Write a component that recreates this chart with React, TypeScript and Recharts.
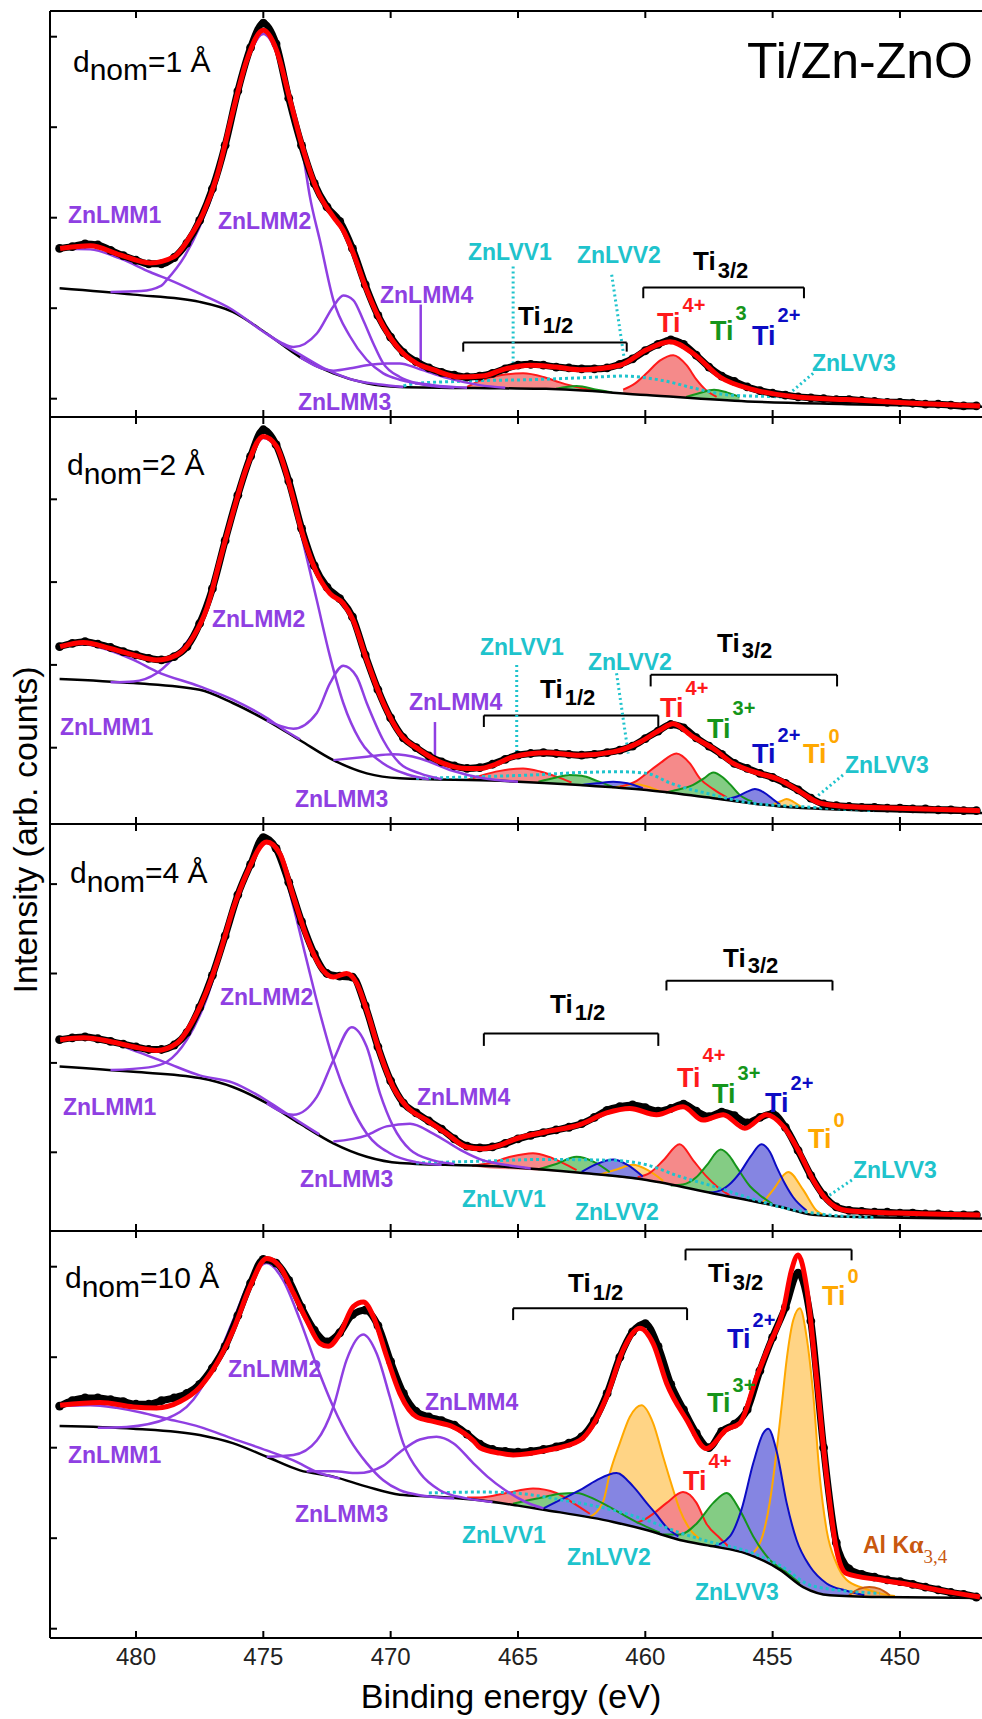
import React from 'react';
import { ComposedChart, Line, Area, XAxis, YAxis, ReferenceLine } from 'recharts';

type P = [number, number];
type B = [number, number, number];

const FONT = '"Liberation Sans", Arial, Helvetica, sans-serif';
const E_LEFT = 483.377;
const E_RIGHT = 446.7;
const energyTicks = [480, 475, 470, 465, 460, 455, 450];

const PURPLE = '#8f3fe2';
const CYAN = '#1fc3cc';
const COL = {
  t4: { stroke: '#ff1a1a', fill: '#f58a8a' },
  t3: { stroke: '#15951a', fill: '#84cc84' },
  t2: { stroke: '#0c0cc4', fill: '#8585e2' },
  t0: { stroke: '#ffa800', fill: '#ffd485' },
  al: { stroke: '#c9580f', fill: '#e8a676' },
};

// ---------- d_nom = 1 Å ----------
const p1Raw: P[] = [[483,1.66],[482.5,1.68],[482,1.71],[481.5,1.70],[481,1.64],[480.5,1.58],[480,1.53],[479.5,1.49],[479,1.49],[478.5,1.56],[478,1.72],[477.5,1.97],[477,2.32],[476.5,2.80],[476,3.40],[475.5,3.88],[475,4.15],[474.5,3.92],[474,3.32],[473.5,2.80],[473,2.38],[472.5,2.12],[472,1.96],[471.5,1.66],[471,1.26],[470.5,0.92],[470,0.68],[469.5,0.51],[469,0.41],[468.5,0.34],[468,0.29],[467.5,0.26],[467,0.24],[466.5,0.25],[466,0.28],[465.5,0.33],[465,0.37],[464.5,0.38],[464,0.37],[463.5,0.35],[463,0.34],[462.5,0.33],[462,0.33],[461.5,0.34],[461,0.38],[460.5,0.44],[460,0.53],[459.5,0.60],[459,0.65],[458.5,0.60],[458,0.48],[457.5,0.35],[457,0.25],[456.5,0.19],[456,0.13],[455.5,0.09],[455,0.06],[454.5,0.04],[454,0.02],[453.5,0.01],[453,0.0],[452.5,-0.01],[452,-0.01],[451.5,-0.02],[451,-0.03],[450.5,-0.04],[450,-0.04],[449.5,-0.05],[449,-0.06],[448.5,-0.06],[448,-0.07],[447.5,-0.08],[447,-0.08]];
const p1Fit: P[] = [[482.98,1.66],[481.8,1.69],[480.63,1.59],[479.45,1.50],[478.5,1.57],[477.88,1.79],[477.36,2.05],[476.83,2.45],[476.18,3.19],[475.65,3.74],[475.0,4.07],[474.48,3.85],[473.95,3.30],[473.43,2.75],[472.9,2.31],[472.25,2.01],[471.86,1.86],[471.47,1.61],[470.94,1.20],[470.29,0.80],[469.64,0.54],[468.98,0.39],[468.33,0.32],[467.28,0.24],[466.4,0.25],[465.5,0.33],[464.53,0.37],[463.5,0.35],[462.57,0.32],[461.0,0.37],[459.95,0.54],[459.03,0.63],[458.12,0.50],[457.07,0.24],[455.76,0.10],[454.06,0.02],[452.1,-0.01],[449.48,-0.05],[446.86,-0.08]];
const p1Bg: P[] = [[483,1.22],[480.1,1.15],[477.5,1.07],[476.2,0.96],[474.87,0.72],[473.56,0.46],[472.25,0.28],[470.94,0.17],[469.64,0.13],[465.7,0.115],[463.9,0.11],[459.95,0.04],[456,-0.03],[452.1,-0.06],[446.7,-0.09]];
const p1Lmm1: P[] = [[483,1.66],[481.8,1.65],[480.63,1.55],[479.45,1.40],[478.5,1.29],[477.5,1.16],[476.2,0.98],[475.2,0.78],[474.3,0.61],[473.5,0.48],[472.5,0.32],[471.5,0.21],[470.5,0.16],[469.5,0.13]];
const p1Lmm2: P[] = [[481,1.18],[479.8,1.19],[479,1.25],[478.8,1.31],[478.1,1.57],[477.5,1.90],[476.83,2.40],[476.18,3.15],[475.65,3.71],[475.0,4.03],[474.48,3.82],[473.95,3.27],[473.43,2.68],[473.17,2.23],[472.78,1.75],[472.25,1.09],[471.6,0.69],[470.94,0.43],[470.29,0.28],[469.64,0.21],[468.33,0.15],[467,0.12]];
const p1Lmm3: P[] = [[474.87,0.72],[474.3,0.62],[473.82,0.57],[472.9,0.72],[472.25,1.02],[471.86,1.14],[471.47,1.09],[471.08,0.87],[470.68,0.61],[470.29,0.39],[469.64,0.24],[468.98,0.17],[468.33,0.14],[467.5,0.12]];
const p1Lmm4: P[] = [[473.56,0.46],[472.25,0.31],[471.5,0.34],[470.94,0.37],[470.2,0.39],[469.64,0.39],[468.9,0.33],[467.8,0.23],[466.5,0.15],[465.5,0.12]];
const p1Lvv: P[] = [[469.5,0.14],[468.98,0.17],[467.5,0.19],[466.49,0.20],[464.53,0.21],[462.57,0.23],[460.87,0.25],[459.3,0.20],[457.99,0.11],[456.68,0.04],[454.71,0.02],[453.4,0.0],[451,-0.04]];
const p1Ti4a: B[] = [[460.87,0.06,0.10],[460.4,0.05,0.17],[459.95,0.04,0.28],[459.43,0.03,0.42],[458.9,0.02,0.48],[458.38,0.01,0.37],[457.99,0.0,0.21],[457.6,-0.005,0.09],[457.2,-0.01,0.02]];
const p1Ti4b: B[] = [[467.0,0.12,0.13],[466.49,0.12,0.20],[465.7,0.115,0.26],[464.8,0.115,0.28],[464.0,0.11,0.24],[463.36,0.10,0.18],[462.57,0.09,0.12],[462.0,0.08,0.09]];
const p1Ti3a: B[] = [[458.4,0.01,0.02],[457.9,0.0,0.06],[457.3,-0.005,0.10],[456.8,-0.01,0.07],[456.3,-0.02,0.02]];
const p1Ti3b: B[] = [[463.5,0.10,0.11],[462.7,0.09,0.14],[461.9,0.08,0.10],[461.3,0.07,0.07]];

// ---------- d_nom = 2 Å ----------
const p2Raw: P[] = [[483,1.22],[482.5,1.26],[482,1.28],[481.5,1.25],[481,1.21],[480.5,1.16],[480,1.12],[479.5,1.08],[479,1.06],[478.5,1.10],[478,1.22],[477.5,1.50],[477,1.92],[476.5,2.50],[476,3.05],[475.5,3.52],[475,3.84],[474.5,3.66],[474,3.22],[473.5,2.65],[473,2.20],[472.5,1.94],[472,1.80],[471.5,1.58],[471,1.12],[470.5,0.70],[470,0.36],[469.5,0.12],[469,0.0],[468.5,-0.10],[468,-0.17],[467.5,-0.22],[467,-0.25],[466.5,-0.24],[466,-0.20],[465.5,-0.14],[465,-0.09],[464.5,-0.07],[464,-0.06],[463.5,-0.07],[463,-0.08],[462.5,-0.09],[462,-0.08],[461.5,-0.06],[461,-0.03],[460.5,0.02],[460,0.11],[459.5,0.20],[459,0.28],[458.5,0.24],[458,0.12],[457.5,0.02],[457,-0.08],[456.5,-0.19],[456,-0.25],[455.5,-0.31],[455,-0.36],[454.5,-0.43],[454,-0.51],[453.5,-0.61],[453,-0.68],[452.5,-0.70],[452,-0.71],[451.5,-0.72],[451,-0.72],[450.5,-0.73],[450,-0.73],[449.5,-0.74],[449,-0.74],[448.5,-0.75],[448,-0.75],[447.5,-0.76],[447,-0.76]];
const p2Fit: P[] = [[482.98,1.22],[482.07,1.27],[481.02,1.20],[480.1,1.12],[479.19,1.06],[478.4,1.12],[477.75,1.34],[477.2,1.70],[476.7,2.27],[476.2,2.83],[475.65,3.39],[475.0,3.76],[474.48,3.64],[473.95,3.15],[473.43,2.55],[472.9,2.11],[472.38,1.86],[471.86,1.74],[471.47,1.54],[470.94,1.06],[470.29,0.54],[469.64,0.17],[468.85,-0.03],[467.93,-0.19],[467.02,-0.25],[466.49,-0.25],[465.97,-0.21],[465.19,-0.11],[463.88,-0.06],[462.57,-0.09],[461.26,-0.05],[460.2,0.07],[459.44,0.21],[458.91,0.29],[458.12,0.13],[457.33,-0.01],[456.55,-0.19],[455.76,-0.29],[454.71,-0.39],[453.93,-0.53],[453.14,-0.67],[452.1,-0.71],[450.1,-0.73],[446.86,-0.76]];
const p2Bg: P[] = [[483,0.83],[480.1,0.78],[477.5,0.70],[476.2,0.54],[474.87,0.33],[473.56,0.09],[472.25,-0.15],[470.94,-0.31],[469.64,-0.37],[465.7,-0.40],[462.57,-0.45],[459.95,-0.51],[457.33,-0.61],[454.71,-0.71],[452.1,-0.75],[446.7,-0.79]];
const p2Lmm1: P[] = [[483,1.22],[482.07,1.25],[481.0,1.17],[480.1,1.06],[479.19,0.92],[477.5,0.74],[476.2,0.58],[474.87,0.36],[474.2,0.22],[473.56,0.10]];
const p2Lmm2: P[] = [[481.0,0.79],[480.1,0.80],[479.19,0.90],[478.15,1.22],[477.5,1.50],[477.2,1.68],[476.7,2.25],[476.2,2.80],[475.65,3.36],[475.0,3.74],[474.48,3.62],[473.95,3.12],[473.43,2.47],[472.9,1.78],[472.38,1.10],[471.86,0.54],[471.21,0.09],[470.29,-0.19],[469.37,-0.32],[468.5,-0.38]];
const p2Lmm3: P[] = [[474.87,0.33],[473.82,0.23],[472.9,0.42],[472.38,0.78],[471.86,0.99],[471.34,0.86],[470.94,0.54],[470.29,0.09],[469.64,-0.19],[468.85,-0.31],[468.0,-0.38]];
const p2Lmm4: P[] = [[472.25,-0.15],[470.94,-0.11],[469.9,-0.08],[468.85,-0.13],[467.67,-0.27],[466.36,-0.37],[465.0,-0.41]];
const p2Lvv: P[] = [[469.0,-0.37],[466.49,-0.35],[464.5,-0.33],[462.57,-0.30],[461.0,-0.29],[459.95,-0.31],[459.0,-0.43],[457.33,-0.57],[456.0,-0.66],[453.41,-0.72],[451.0,-0.76]];
const p2Ti4a: B[] = [[461.0,-0.49,-0.47],[460.34,-0.50,-0.40],[459.95,-0.51,-0.31],[459.43,-0.53,-0.19],[458.78,-0.555,-0.07],[458.25,-0.57,-0.19],[457.86,-0.59,-0.37],[457.33,-0.61,-0.50],[456.8,-0.63,-0.60]];
const p2Ti4b: B[] = [[467.0,-0.40,-0.39],[466.49,-0.40,-0.34],[465.7,-0.41,-0.28],[464.8,-0.41,-0.25],[464.1,-0.42,-0.29],[463.49,-0.43,-0.35],[462.9,-0.44,-0.42]];
const p2Ti3a: B[] = [[459.2,-0.54,-0.54],[458.9,-0.55,-0.52],[458.12,-0.58,-0.45],[457.7,-0.60,-0.37],[457.33,-0.61,-0.30],[456.95,-0.62,-0.36],[456.68,-0.63,-0.44],[456.29,-0.645,-0.57],[455.8,-0.66,-0.65]];
const p2Ti3b: B[] = [[464.2,-0.42,-0.41],[463.5,-0.43,-0.36],[463.0,-0.44,-0.33],[462.5,-0.45,-0.34],[461.9,-0.46,-0.40],[461.3,-0.48,-0.47]];
const p2Ti2a: B[] = [[456.9,-0.63,-0.63],[456.4,-0.645,-0.59],[456.0,-0.66,-0.53],[455.7,-0.67,-0.50],[455.35,-0.68,-0.54],[455.0,-0.69,-0.62],[454.7,-0.70,-0.69]];
const p2Ti2b: B[] = [[462.5,-0.45,-0.45],[461.9,-0.46,-0.43],[461.26,-0.48,-0.41],[460.7,-0.49,-0.43],[460.1,-0.50,-0.49]];
const p2Ti0a: B[] = [[455.0,-0.69,-0.69],[454.7,-0.70,-0.65],[454.45,-0.705,-0.62],[454.2,-0.71,-0.65],[453.9,-0.72,-0.71]];
const p2Ti0b: B[] = [[461.3,-0.48,-0.48],[460.8,-0.49,-0.46],[460.34,-0.50,-0.44],[459.9,-0.51,-0.47],[459.4,-0.53,-0.53]];

// ---------- d_nom = 4 Å ----------
const p3Raw: P[] = [[483,1.26],[482.5,1.28],[482,1.29],[481.5,1.27],[481,1.24],[480.5,1.21],[480,1.18],[479.5,1.15],[479,1.15],[478.5,1.20],[478,1.34],[477.5,1.62],[477,1.98],[476.5,2.42],[476,2.88],[475.5,3.22],[475,3.52],[474.5,3.40],[474,3.02],[473.5,2.58],[473,2.22],[472.5,2.00],[472,1.97],[471.5,1.96],[471,1.64],[470.5,1.18],[470,0.80],[469.5,0.55],[469,0.44],[468.5,0.35],[468,0.26],[467.5,0.15],[467,0.07],[466.5,0.05],[466,0.06],[465.5,0.10],[465,0.15],[464.5,0.19],[464,0.22],[463.5,0.25],[463,0.28],[462.5,0.32],[462,0.39],[461.5,0.47],[461,0.51],[460.5,0.53],[460,0.50],[459.5,0.46],[459,0.49],[458.5,0.54],[458,0.46],[457.5,0.40],[457,0.45],[456.5,0.41],[456,0.33],[455.5,0.39],[455,0.43],[454.5,0.28],[454,0.02],[453.5,-0.26],[453,-0.48],[452.5,-0.61],[452,-0.65],[451.5,-0.66],[451,-0.67],[450.5,-0.67],[450,-0.68],[449.5,-0.68],[449,-0.69],[448.5,-0.69],[448,-0.70],[447.5,-0.70],[447,-0.70]];
const p3Fit: P[] = [[482.98,1.26],[482.07,1.28],[481.02,1.24],[480.1,1.18],[479.19,1.14],[478.4,1.22],[477.75,1.48],[477.2,1.82],[476.7,2.23],[476.2,2.71],[475.65,3.12],[474.87,3.47],[474.35,3.34],[473.82,2.86],[473.3,2.41],[472.77,2.08],[472.25,1.96],[471.73,2.00],[471.33,1.89],[470.94,1.59],[470.42,1.11],[469.9,0.73],[469.37,0.51],[468.59,0.36],[467.8,0.21],[467.02,0.06],[466.4,0.04],[465.7,0.08],[465.19,0.14],[463.88,0.23],[462.57,0.31],[461.52,0.44],[460.61,0.49],[459.56,0.42],[458.52,0.51],[457.73,0.36],[456.94,0.42],[456.09,0.27],[455.24,0.42],[454.58,0.29],[453.93,-0.01],[453.41,-0.31],[452.88,-0.53],[452.1,-0.65],[450.1,-0.68],[446.86,-0.70]];
const p3Bg: P[] = [[483,0.96],[480.1,0.90],[477.5,0.83],[476.2,0.73],[474.87,0.55],[473.56,0.32],[472.25,0.10],[470.94,-0.05],[469.64,-0.12],[465.7,-0.16],[462.57,-0.23],[459.95,-0.31],[457.33,-0.46],[454.71,-0.61],[453.41,-0.70],[452.1,-0.72],[446.7,-0.74]];
const p3Lmm1: P[] = [[483,1.26],[481.5,1.27],[480.1,1.14],[478.8,1.00],[477.5,0.86],[476.2,0.78],[474.87,0.58],[473.8,0.38],[472.8,0.20]];
const p3Lmm2: P[] = [[481.0,0.92],[479.5,0.95],[478.8,1.01],[478.0,1.26],[477.2,1.74],[476.7,2.20],[476.2,2.68],[475.65,3.10],[474.87,3.46],[474.35,3.30],[473.82,2.75],[473.3,2.15],[472.77,1.55],[472.25,1.03],[471.6,0.55],[470.94,0.21],[470.03,-0.01],[469.0,-0.11],[468.0,-0.14]];
const p3Lmm3: P[] = [[474.87,0.55],[473.82,0.42],[472.9,0.62],[472.25,1.03],[471.53,1.40],[470.94,1.18],[470.42,0.66],[469.9,0.29],[469.24,0.03],[468.33,-0.09],[467.5,-0.13]];
const p3Lmm4: P[] = [[472.25,0.12],[470.94,0.19],[470.16,0.29],[469.24,0.32],[468.33,0.21],[467.28,0.03],[466.36,-0.09],[465.7,-0.13],[464.5,-0.18]];
const p3Lvv: P[] = [[469.0,-0.12],[466.49,-0.10],[464.0,-0.08],[461.26,-0.09],[459.95,-0.14],[458.65,-0.27],[457.33,-0.38],[456.03,-0.50],[454.72,-0.61],[453.41,-0.68],[451.0,-0.73]];
const p3Ti4a: B[] = [[460.3,-0.29,-0.28],[459.82,-0.32,-0.23],[459.29,-0.35,-0.09],[458.65,-0.38,0.09],[458.12,-0.41,-0.09],[457.6,-0.44,-0.27],[457.2,-0.47,-0.38],[456.7,-0.50,-0.48]];
const p3Ti4b: B[] = [[466.8,-0.16,-0.15],[466.1,-0.18,-0.12],[465.3,-0.19,-0.05],[464.41,-0.20,-0.01],[463.8,-0.21,-0.05],[463.23,-0.22,-0.12],[462.7,-0.23,-0.20]];
const p3Ti3a: B[] = [[459.0,-0.37,-0.37],[458.52,-0.39,-0.36],[458.0,-0.42,-0.28],[457.6,-0.44,-0.15],[457.04,-0.47,0.03],[456.7,-0.49,-0.04],[456.42,-0.51,-0.16],[455.89,-0.55,-0.38],[455.5,-0.57,-0.48],[455.0,-0.60,-0.58]];
const p3Ti3b: B[] = [[464.2,-0.20,-0.19],[463.5,-0.21,-0.13],[462.7,-0.23,-0.05],[462.0,-0.25,-0.11],[461.4,-0.27,-0.22]];
const p3Ti2a: B[] = [[457.5,-0.45,-0.45],[457.2,-0.47,-0.44],[456.7,-0.50,-0.36],[456.29,-0.52,-0.23],[455.85,-0.55,-0.04],[455.44,-0.57,0.09],[455.1,-0.59,0.0],[454.85,-0.60,-0.16],[454.5,-0.62,-0.36],[454.2,-0.64,-0.50],[453.67,-0.68,-0.65]];
const p3Ti2b: B[] = [[462.5,-0.23,-0.22],[461.9,-0.25,-0.13],[461.26,-0.27,-0.08],[460.7,-0.29,-0.14],[460.1,-0.31,-0.27]];
const p3Ti0a: B[] = [[455.4,-0.58,-0.57],[454.98,-0.60,-0.42],[454.39,-0.63,-0.22],[453.8,-0.67,-0.42],[453.28,-0.70,-0.65],[453.0,-0.71,-0.70]];
const p3Ti0b: B[] = [[461.8,-0.26,-0.25],[461.1,-0.28,-0.19],[460.5,-0.30,-0.14],[459.9,-0.32,-0.20],[459.3,-0.35,-0.32]];

// ---------- d_nom = 10 Å ----------
const p4Raw: P[] = [[483,2.46],[482.5,2.52],[482,2.55],[481.5,2.55],[481,2.53],[480.5,2.51],[480,2.48],[479.5,2.48],[479,2.52],[478.5,2.55],[478,2.60],[477.5,2.70],[477,2.88],[476.5,3.12],[476,3.46],[475.5,3.82],[475,4.08],[474.5,4.04],[474,3.85],[473.5,3.55],[473,3.30],[472.5,3.17],[472,3.27],[471.5,3.47],[471,3.52],[470.5,3.35],[470,2.95],[469.5,2.60],[469,2.40],[468.5,2.34],[468,2.30],[467.5,2.25],[467,2.15],[466.5,2.04],[466,1.98],[465.5,1.96],[465,1.95],[464.5,1.96],[464,1.98],[463.5,2.01],[463,2.05],[462.5,2.12],[462,2.30],[461.5,2.60],[461,3.00],[460.5,3.28],[460,3.37],[459.5,3.12],[459,2.70],[458.5,2.42],[458,2.16],[457.5,2.00],[457,2.18],[456.5,2.26],[456,2.42],[455.5,2.85],[455,3.22],[454.5,3.55],[454,3.93],[453.5,3.40],[453,2.00],[452.5,0.95],[452,0.66],[451.5,0.60],[451,0.57],[450.5,0.54],[450,0.52],[449.5,0.49],[449,0.46],[448.5,0.43],[448,0.40],[447.5,0.38],[447,0.35]];
const p4Fit: P[] = [[482.98,2.47],[481.41,2.50],[480.1,2.45],[479.19,2.44],[478.27,2.51],[477.49,2.67],[476.83,2.93],[476.18,3.30],[475.52,3.78],[474.87,4.09],[474.35,4.00],[473.82,3.71],[473.3,3.41],[472.77,3.15],[472.45,3.12],[471.99,3.26],[471.47,3.56],[471.07,3.61],[470.68,3.45],[470.16,3.01],[469.64,2.60],[468.98,2.34],[468.33,2.29],[467.54,2.23],[466.76,2.08],[466.49,2.00],[465.71,1.94],[465.19,1.92],[463.88,1.97],[462.57,2.08],[461.52,2.56],[460.87,3.08],[460.21,3.32],[459.69,3.15],[459.16,2.71],[458.38,2.31],[457.6,1.99],[456.81,2.20],[456.29,2.27],[455.63,2.78],[455.11,3.15],[454.58,3.52],[454.26,3.96],[454.0,4.13],[453.67,3.78],[453.28,2.78],[452.88,1.68],[452.49,0.87],[452.1,0.61],[450.79,0.54],[449.48,0.48],[448.17,0.41],[446.86,0.35]];
const p4Bg: P[] = [[483,2.24],[480.1,2.21],[477.5,2.14],[476.2,2.05],[474.87,1.90],[473.56,1.75],[472.25,1.68],[470.94,1.57],[469.64,1.48],[468.33,1.46],[466.49,1.42],[465.0,1.36],[463.88,1.31],[461.26,1.18],[459.95,1.09],[458.65,0.98],[457.33,0.91],[456.03,0.83],[454.71,0.65],[453.8,0.46],[452.75,0.37],[450.8,0.35],[446.7,0.34]];
const p4Lmm1: P[] = [[483,2.46],[481.8,2.47],[480.76,2.44],[479.8,2.39],[478.8,2.32],[477.5,2.23],[476.2,2.10],[474.87,1.97],[473.82,1.86],[472.8,1.72],[472.0,1.66]];
const p4Lmm2: P[] = [[481.5,2.22],[480.37,2.23],[478.8,2.32],[477.75,2.53],[476.96,2.90],[476.18,3.41],[475.52,3.85],[474.87,4.04],[474.22,3.85],[473.56,3.41],[472.9,2.90],[472.25,2.45],[471.6,2.09],[470.94,1.83],[470.29,1.64],[469.64,1.53],[468.72,1.47],[467.5,1.44]];
const p4Lmm3: P[] = [[474.87,1.90],[473.82,1.92],[472.9,2.08],[472.25,2.45],[471.73,2.97],[471.08,3.25],[470.55,3.04],[470.03,2.56],[469.51,2.05],[468.85,1.72],[468.07,1.53],[467.02,1.44],[466.0,1.40]];
const p4Lmm4: P[] = [[473.3,1.74],[472.25,1.74],[471.3,1.72],[470.3,1.80],[469.64,1.95],[468.85,2.09],[468.2,2.12],[467.54,2.05],[466.76,1.83],[466.2,1.68],[465.5,1.53],[464.7,1.40],[464.0,1.33]];
const p4Lvv: P[] = [[468.5,1.50],[466.49,1.51],[465.19,1.50],[463.23,1.42],[461.26,1.31],[459.95,1.20],[458.64,1.06],[457.33,0.95],[456.03,0.86],[454.72,0.70],[453.41,0.47],[450.79,0.39]];
const p4Ti4a: B[] = [[460.34,1.12,1.17],[459.95,1.09,1.22],[459.69,1.07,1.27],[459.16,1.03,1.39],[458.52,0.98,1.51],[457.99,0.95,1.39],[457.6,0.93,1.16],[457.07,0.90,1.00],[456.7,0.87,0.90]];
const p4Ti4b: B[] = [[467.0,1.44,1.45],[466.49,1.42,1.45],[465.45,1.38,1.50],[464.41,1.34,1.55],[463.49,1.30,1.50],[462.84,1.27,1.39],[462.18,1.23,1.27]];
const p4Ti3a: B[] = [[459.3,1.04,1.04],[458.64,0.98,1.04],[457.99,0.95,1.16],[457.33,0.91,1.39],[456.81,0.88,1.50],[456.29,0.85,1.31],[455.76,0.80,1.02],[455.11,0.72,0.76],[454.45,0.60,0.62],[453.93,0.48,0.50]];
const p4Ti3b: B[] = [[465.2,1.37,1.38],[464.4,1.34,1.43],[463.88,1.32,1.46],[463.36,1.29,1.49],[462.71,1.26,1.50],[461.92,1.22,1.42],[461.0,1.17,1.28],[460.21,1.11,1.16],[459.43,1.05,1.06]];
const p4Ti2a: B[] = [[457.33,0.91,0.91],[456.68,0.87,1.02],[456.23,0.84,1.31],[455.76,0.80,1.83],[455.37,0.75,2.16],[455.17,0.72,2.21],[454.85,0.68,1.97],[454.45,0.60,1.39],[454.06,0.52,0.98],[453.54,0.44,0.69],[452.88,0.38,0.50],[452.1,0.36,0.42],[451.4,0.35,0.37]];
const p4Ti2b: B[] = [[464.0,1.32,1.33],[463.36,1.29,1.42],[462.57,1.25,1.53],[461.92,1.22,1.64],[461.13,1.17,1.72],[460.47,1.13,1.57],[459.95,1.09,1.39],[459.56,1.06,1.26],[459.16,1.03,1.12],[458.7,0.99,1.02]];
const p4Ti0a: B[] = [[455.76,0.80,0.84],[455.37,0.75,1.05],[455.11,0.72,1.40],[454.85,0.68,1.95],[454.65,0.64,2.45],[454.45,0.60,2.97],[454.19,0.55,3.41],[453.93,0.48,3.54],[453.67,0.45,3.23],[453.41,0.42,2.60],[453.15,0.40,1.68],[452.88,0.38,1.09],[452.49,0.37,0.72],[452.1,0.36,0.54],[451.45,0.35,0.45],[450.79,0.35,0.39],[450.2,0.35,0.36]];
const p4Ti0b: B[] = [[462.2,1.22,1.23],[461.66,1.20,1.40],[461.39,1.18,1.72],[461.0,1.17,2.05],[460.61,1.14,2.34],[460.15,1.11,2.47],[459.69,1.07,2.27],[459.3,1.04,1.90],[458.9,1.01,1.53],[458.64,0.98,1.31],[458.25,0.96,1.10],[457.8,0.94,0.98]];
const p4AlK: B[] = [[452.0,0.36,0.37],[451.6,0.36,0.44],[451.2,0.35,0.46],[450.8,0.35,0.44],[450.4,0.35,0.37]];

// brackets: [E start, E end, y, y of the end ticks]
type Bracket = [number, number, number, number];
type Pointer = { a: P; b: P; c: string; dotted?: boolean };

const panels = [
  {
    top: 11, bottom: 417, domain: [-0.2022, 4.284], ticks: [0, 1, 2, 3, 4],
    raw: p1Raw, fit: p1Fit, bg: p1Bg, lmm: [p1Lmm1, p1Lmm2, p1Lmm3, p1Lmm4], lvv: [p1Lvv],
    ti: [{ k: 't4', d: p1Ti4a }, { k: 't4', d: p1Ti4b }, { k: 't3', d: p1Ti3a }, { k: 't3', d: p1Ti3b }],
    brackets: [[467.15, 460.73, 0.62, 0.52], [460.08, 453.77, 1.23, 1.11]] as Bracket[],
    pointers: [
      { a: [468.82, 1.04], b: [468.82, 0.32], c: PURPLE },
      { a: [465.19, 1.46], b: [465.19, 0.37], c: CYAN, dotted: true },
      { a: [461.32, 1.37], b: [460.8, 0.39], c: CYAN, dotted: true },
      { a: [453.41, 0.28], b: [454.58, 0.0], c: CYAN, dotted: true },
    ] as Pointer[],
  },
  {
    top: 417, bottom: 824, domain: [-0.9215, 3.994], ticks: [0, 1, 2, 3],
    raw: p2Raw, fit: p2Fit, bg: p2Bg, lmm: [p2Lmm1, p2Lmm2, p2Lmm3, p2Lmm4], lvv: [p2Lvv],
    ti: [{ k: 't0', d: p2Ti0a }, { k: 't0', d: p2Ti0b }, { k: 't4', d: p2Ti4a }, { k: 't4', d: p2Ti4b }, { k: 't3', d: p2Ti3a }, { k: 't3', d: p2Ti3b }, { k: 't2', d: p2Ti2a }, { k: 't2', d: p2Ti2b }],
    brackets: [[466.34, 459.49, 0.39, 0.25], [459.79, 452.47, 0.88, 0.74]] as Bracket[],
    pointers: [
      { a: [468.26, 0.31], b: [468.26, -0.15], c: PURPLE },
      { a: [465.05, 1.0], b: [465.05, -0.15], c: CYAN, dotted: true },
      { a: [461.13, 0.9], b: [460.67, -0.07], c: CYAN, dotted: true },
      { a: [452.24, -0.33], b: [453.42, -0.63], c: CYAN, dotted: true },
    ] as Pointer[],
  },
  {
    top: 824, bottom: 1231, domain: [-0.8803, 3.6723], ticks: [0, 1, 2, 3],
    raw: p3Raw, fit: p3Fit, bg: p3Bg, lmm: [p3Lmm1, p3Lmm2, p3Lmm3, p3Lmm4], lvv: [p3Lvv],
    ti: [{ k: 't0', d: p3Ti0a }, { k: 't0', d: p3Ti0b }, { k: 't4', d: p3Ti4a }, { k: 't4', d: p3Ti4b }, { k: 't3', d: p3Ti3a }, { k: 't3', d: p3Ti3b }, { k: 't2', d: p3Ti2a }, { k: 't2', d: p3Ti2b }],
    brackets: [[466.34, 459.49, 1.33, 1.19], [459.17, 452.65, 1.92, 1.81]] as Bracket[],
    pointers: [{ a: [451.89, -0.31], b: [452.87, -0.5], c: CYAN, dotted: true }] as Pointer[],
  },
  {
    top: 1231, bottom: 1638, domain: [-0.1028, 4.3945], ticks: [0, 1, 2, 3, 4],
    raw: p4Raw, fit: p4Fit, bg: p4Bg, lmm: [p4Lmm1, p4Lmm2, p4Lmm3, p4Lmm4], lvv: [p4Lvv],
    ti: [{ k: 't0', d: p4Ti0a }, { k: 't0', d: p4Ti0b }, { k: 't4', d: p4Ti4a }, { k: 't4', d: p4Ti4b }, { k: 't3', d: p4Ti3a }, { k: 't3', d: p4Ti3b }, { k: 't2', d: p4Ti2a }, { k: 't2', d: p4Ti2b }, { k: 'al', d: p4AlK }],
    brackets: [[465.19, 458.36, 3.54, 3.41], [458.42, 451.9, 4.19, 4.07]] as Bracket[],
    pointers: [] as Pointer[],
  },
];

const AXIS = { stroke: '#000', strokeWidth: 2 };
const xy = (d: P[]) => d.map(([x, y]) => ({ x, y }));
const band = (d: B[]) => d.map(([x, lo, hi]) => ({ x, y: [lo, hi] }));
const upper = (d: B[]) => d.map(([x, , hi]) => ({ x, y: hi }));

const BottomTick = (props: any) => {
  const { x, y, payload, showLabel } = props;
  return (
    <g>
      <line x1={x} x2={x} y1={y} y2={y - 7} stroke="#000" strokeWidth={2} />
      {showLabel && (
        <text x={x} y={y + 27} textAnchor="middle" fontSize={24} fontFamily={FONT} fill="#222">
          {payload.value}
        </text>
      )}
    </g>
  );
};
const TopTick = (props: any) => (
  <line x1={props.x} x2={props.x} y1={props.y} y2={props.y + 7} stroke="#000" strokeWidth={2} />
);
const LeftTick = (props: any) => (
  <line x1={props.x} x2={props.x + 7} y1={props.y} y2={props.y} stroke="#000" strokeWidth={2} />
);

// same three axes for the main chart and the fit overlay; the overlay draws none of them
function axes(p: any, last: boolean, bare: boolean) {
  const axisB = last ? 40 : 10;
  return [
    <XAxis key="xb" type="number" dataKey="x" domain={[E_RIGHT, E_LEFT]} reversed allowDataOverflow
      ticks={energyTicks} interval={0} height={axisB} tickSize={0} tickMargin={0} tickLine={false}
      axisLine={bare ? false : AXIS} tick={bare ? false : (t: any) => <BottomTick {...t} showLabel={last} />} />,
    <XAxis key="xt" xAxisId="top" orientation="top" type="number" dataKey="x" domain={[E_RIGHT, E_LEFT]} reversed
      allowDataOverflow ticks={energyTicks} interval={0} height={10} tickSize={0} tickMargin={0}
      tickLine={false} axisLine={bare ? false : AXIS} tick={bare ? false : (t: any) => <TopTick {...t} />} />,
    <YAxis key="yl" type="number" domain={p.domain} allowDataOverflow ticks={p.ticks} interval={0} width={10}
      tickSize={0} tickMargin={0} tickLine={false} axisLine={bare ? false : AXIS}
      tick={bare ? false : (t: any) => <LeftTick {...t} />} />,
  ];
}

// plot area of each panel: x 50..984, y top..bottom (page pixels)
function Panel({ p, last }: { p: any; last: boolean }) {
  const axisB = last ? 40 : 10;
  const h = p.bottom - p.top + 10 + axisB;
  const margin = { top: 0, right: 16, bottom: 0, left: 40 };
  return (
    <div style={{ position: 'absolute', left: 0, top: p.top - 10, width: 1000, height: h }}>
      <div style={{ position: 'absolute', left: 0, top: 0 }}>
        <ComposedChart width={1000} height={h} margin={margin}>
          {axes(p, last, false)}
          {p.ti.map((c: any, i: number) => (
            <Area key={'f' + i} name={'fill' + i} data={band(c.d)} dataKey="y" type="monotone" stroke="none"
              fill={COL[c.k].fill} fillOpacity={1} isAnimationActive={false} dot={false} activeDot={false} />
          ))}
          {p.ti.map((c: any, i: number) => (
            <Line key={'s' + i} name={'edge' + i} data={upper(c.d)} dataKey="y" type="monotone"
              stroke={COL[c.k].stroke} strokeWidth={2} dot={false} activeDot={false} isAnimationActive={false} />
          ))}
          <Line name="background" data={xy(p.bg)} dataKey="y" type="monotone" stroke="#000" strokeWidth={2.5}
            dot={false} activeDot={false} isAnimationActive={false} />
          {p.lvv.map((d: P[], i: number) => (
            <Line key={'v' + i} name={'lvv' + i} data={xy(d)} dataKey="y" type="monotone" stroke={CYAN}
              strokeWidth={3} strokeDasharray="3 3" dot={false} activeDot={false} isAnimationActive={false} />
          ))}
          {p.lmm.map((d: P[], i: number) => (
            <Line key={'m' + i} name={'lmm' + i} data={xy(d)} dataKey="y" type="monotone" stroke={PURPLE}
              strokeWidth={2.5} dot={false} activeDot={false} isAnimationActive={false} />
          ))}
          {p.brackets.flatMap((b: Bracket, i: number) => [
            <ReferenceLine key={'bh' + i} segment={[{ x: b[0], y: b[2] }, { x: b[1], y: b[2] }]} stroke="#000" strokeWidth={2} ifOverflow="visible" />,
            <ReferenceLine key={'bl' + i} segment={[{ x: b[0], y: b[2] }, { x: b[0], y: b[3] }]} stroke="#000" strokeWidth={2} ifOverflow="visible" />,
            <ReferenceLine key={'br' + i} segment={[{ x: b[1], y: b[2] }, { x: b[1], y: b[3] }]} stroke="#000" strokeWidth={2} ifOverflow="visible" />,
          ])}
          {p.pointers.map((q: Pointer, i: number) => (
            <ReferenceLine key={'pt' + i} segment={[{ x: q.a[0], y: q.a[1] }, { x: q.b[0], y: q.b[1] }]}
              stroke={q.c} strokeWidth={q.dotted ? 3 : 2.5} strokeDasharray={q.dotted ? '2 3' : undefined} ifOverflow="visible" />
          ))}
          <Line name="measured" data={xy(p.raw)} dataKey="y" type="monotone" stroke="#000" strokeWidth={7}
            dot={{ r: 4.4, fill: '#000', stroke: '#000', strokeWidth: 0 }} activeDot={false} isAnimationActive={false} />
        </ComposedChart>
      </div>
      <div style={{ position: 'absolute', left: 0, top: 0 }}>
        <ComposedChart width={1000} height={h} margin={margin}>
          {axes(p, last, true)}
          <Line name="fit" data={xy(p.fit)} dataKey="y" type="monotone" stroke="#ff0000" strokeWidth={5}
            dot={false} activeDot={false} isAnimationActive={false} />
        </ComposedChart>
      </div>
    </div>
  );
}

const Lbl = ({ x, y, c, t }: { x: number; y: number; c: string; t: string }) => (
  <text x={x} y={y} fill={c} fontSize={23} fontWeight="bold" fontFamily={FONT}>{t}</text>
);
const TiSup = ({ x, y, sy, c, s }: { x: number; y: number; sy: number; c: string; s: string }) => (
  <text x={x} y={y} fill={c} fontSize={27} fontWeight="bold" fontFamily={FONT}>
    Ti<tspan dx={2} y={sy} fontSize={20}>{s}</tspan>
  </text>
);
const TiSub = ({ x, y, sy, s }: { x: number; y: number; sy: number; s: string }) => (
  <text x={x} y={y} fill="#000" fontSize={26} fontWeight="bold" fontFamily={FONT}>
    Ti<tspan dx={2} y={sy} fontSize={22}>{s}</tspan>
  </text>
);
const Dnom = ({ x, y, v }: { x: number; y: number; v: string }) => (
  <text x={x} y={y} fill="#000" fontSize={30} fontFamily={FONT}>
    d<tspan y={y + 8.5}>nom</tspan><tspan y={y}>={v} Å</tspan>
  </text>
);

function Annotations() {
  return (
    <svg width={982} height={1719} style={{ position: 'absolute', left: 0, top: 0, pointerEvents: 'none' }}>
      <text x={747} y={78} fontSize={50} fontFamily={FONT} fill="#000">Ti/Zn-ZnO</text>
      <text x={511} y={1708} fontSize={34} fontFamily={FONT} fill="#000" textAnchor="middle">Binding energy (eV)</text>
      <text x={37} y={830} fontSize={34} fontFamily={FONT} fill="#000" textAnchor="middle" transform="rotate(-90 37 830)">Intensity (arb. counts)</text>

      {/* panel 1 */}
      <Dnom x={73} y={71.7} v="1" />
      <Lbl x={68} y={223} c={PURPLE} t="ZnLMM1" />
      <Lbl x={218} y={229} c={PURPLE} t="ZnLMM2" />
      <Lbl x={380} y={303} c={PURPLE} t="ZnLMM4" />
      <Lbl x={298} y={410} c={PURPLE} t="ZnLMM3" />
      <Lbl x={468} y={260} c={CYAN} t="ZnLVV1" />
      <Lbl x={577} y={263} c={CYAN} t="ZnLVV2" />
      <Lbl x={812} y={371} c={CYAN} t="ZnLVV3" />
      <TiSub x={518} y={325} sy={333} s="1/2" />
      <TiSub x={693} y={270} sy={278} s="3/2" />
      <TiSup x={657} y={332} sy={312} c={COL.t4.stroke} s="4+" />
      <TiSup x={710} y={340} sy={320} c={COL.t3.stroke} s="3" />
      <TiSup x={752} y={345} sy={322} c={COL.t2.stroke} s="2+" />

      {/* panel 2 */}
      <Dnom x={67} y={475} v="2" />
      <Lbl x={212} y={627} c={PURPLE} t="ZnLMM2" />
      <Lbl x={60} y={735} c={PURPLE} t="ZnLMM1" />
      <Lbl x={295} y={807} c={PURPLE} t="ZnLMM3" />
      <Lbl x={409} y={710} c={PURPLE} t="ZnLMM4" />
      <Lbl x={480} y={655} c={CYAN} t="ZnLVV1" />
      <Lbl x={588} y={670} c={CYAN} t="ZnLVV2" />
      <Lbl x={845} y={773} c={CYAN} t="ZnLVV3" />
      <TiSub x={540} y={698} sy={705} s="1/2" />
      <TiSub x={717} y={652} sy={658} s="3/2" />
      <TiSup x={660} y={717} sy={695} c={COL.t4.stroke} s="4+" />
      <TiSup x={707} y={738} sy={715} c={COL.t3.stroke} s="3+" />
      <TiSup x={752} y={763} sy={742} c={COL.t2.stroke} s="2+" />
      <TiSup x={803} y={763} sy={743} c={COL.t0.stroke} s="0" />

      {/* panel 3 */}
      <Dnom x={70} y={883} v="4" />
      <Lbl x={220} y={1005} c={PURPLE} t="ZnLMM2" />
      <Lbl x={63} y={1115} c={PURPLE} t="ZnLMM1" />
      <Lbl x={300} y={1187} c={PURPLE} t="ZnLMM3" />
      <Lbl x={417} y={1105} c={PURPLE} t="ZnLMM4" />
      <Lbl x={462} y={1207} c={CYAN} t="ZnLVV1" />
      <Lbl x={575} y={1220} c={CYAN} t="ZnLVV2" />
      <Lbl x={853} y={1178} c={CYAN} t="ZnLVV3" />
      <TiSub x={550} y={1013} sy={1020} s="1/2" />
      <TiSub x={723} y={967} sy={973} s="3/2" />
      <TiSup x={677} y={1087} sy={1062} c={COL.t4.stroke} s="4+" />
      <TiSup x={712} y={1103} sy={1080} c={COL.t3.stroke} s="3+" />
      <TiSup x={765} y={1112} sy={1090} c={COL.t2.stroke} s="2+" />
      <TiSup x={808} y={1148} sy={1127} c={COL.t0.stroke} s="0" />

      {/* panel 4 */}
      <Dnom x={65} y={1288} v="10" />
      <Lbl x={228} y={1377} c={PURPLE} t="ZnLMM2" />
      <Lbl x={68} y={1463} c={PURPLE} t="ZnLMM1" />
      <Lbl x={295} y={1522} c={PURPLE} t="ZnLMM3" />
      <Lbl x={425} y={1410} c={PURPLE} t="ZnLMM4" />
      <Lbl x={462} y={1543} c={CYAN} t="ZnLVV1" />
      <Lbl x={567} y={1565} c={CYAN} t="ZnLVV2" />
      <Lbl x={695} y={1600} c={CYAN} t="ZnLVV3" />
      <TiSub x={568} y={1292} sy={1300} s="1/2" />
      <TiSub x={708} y={1282} sy={1290} s="3/2" />
      <TiSup x={822} y={1305} sy={1283} c={COL.t0.stroke} s="0" />
      <TiSup x={727} y={1348} sy={1327} c={COL.t2.stroke} s="2+" />
      <TiSup x={707} y={1412} sy={1392} c={COL.t3.stroke} s="3+" />
      <TiSup x={683} y={1490} sy={1468} c={COL.t4.stroke} s="4+" />
      <text x={863} y={1553} fill={COL.al.stroke} fontSize={23} fontWeight="bold" fontFamily={FONT}>
        Al K<tspan fontFamily='"Liberation Serif", serif' fontSize={26}>α</tspan>
        <tspan y={1563} fontFamily='"Liberation Serif", serif' fontWeight="normal" fontSize={19}>3,4</tspan>
      </text>
    </svg>
  );
}

export default function App() {
  return (
    <div style={{ position: 'relative', width: 982, height: 1719, overflow: 'hidden', background: '#fff' }}>
      <style>{'body{margin:0}'}</style>
      {panels.map((p, i) => (
        <Panel key={i} p={p} last={i === panels.length - 1} />
      ))}
      <Annotations />
    </div>
  );
}
